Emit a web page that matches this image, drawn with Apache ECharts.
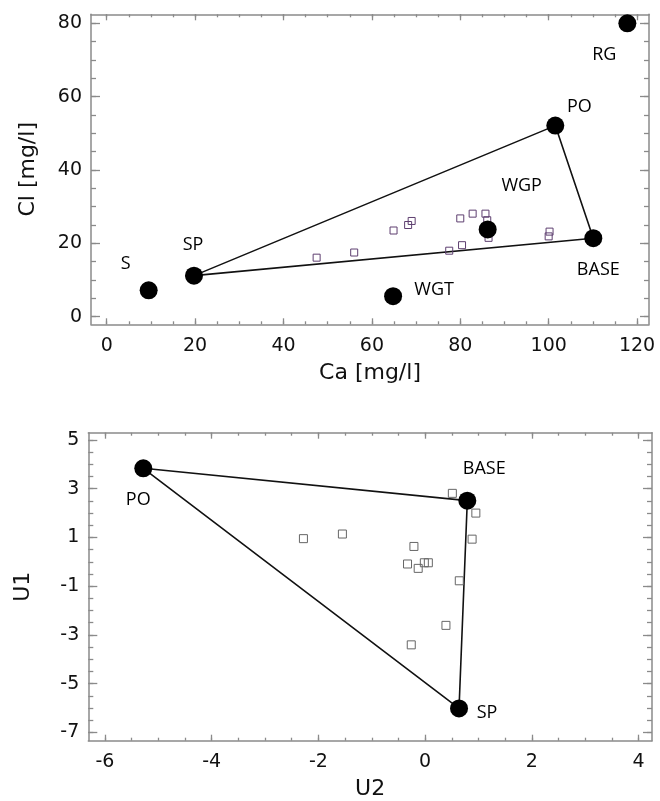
<!DOCTYPE html>
<html><head><meta charset="utf-8">
<script src="https://cdn.jsdelivr.net/npm/echarts@6/dist/echarts.min.js"></script>
<style>html,body{margin:0;padding:0;background:#fff}#c{width:660px;height:801px}</style>
</head><body><div id="c"></div>
<script>
// ---------- Top chart: Ca vs Cl ----------
const endNames = ['S', 'SP', 'WGT', 'WGP', 'BASE', 'PO', 'RG'];
const endCa = [9.5, 19.75, 64.8, 86.2, 110.1, 101.5, 117.8];
const endCl = [7.2, 11.2, 5.6, 23.8, 21.4, 52.1, 80.0];
const sampleCa = [47.5, 56.0, 64.9, 68.2, 69.0, 77.5, 80.0, 80.4, 82.8, 85.7, 86.1, 86.4, 100.2, 100.0];
const sampleCl = [16.1, 17.5, 23.5, 25.0, 26.1, 18.0, 26.8, 19.5, 28.1, 28.1, 26.3, 21.5, 23.2, 21.9];
const mixTop = ['SP', 'PO', 'BASE', 'SP'];
const caTicks = [0, 20, 40, 60, 80, 100, 120];
const caMinor = [0, 5, 10, 15, 20, 25, 30, 35, 40, 45, 50, 55, 60, 65, 70, 75, 80, 85, 90, 95, 100, 105, 110, 115, 120];
const clTicks = [0, 20, 40, 60, 80];
const clMinor = [0, 5, 10, 15, 20, 25, 30, 35, 40, 45, 50, 55, 60, 65, 70, 75, 80];

// ---------- Bottom chart: U2 vs U1 ----------
const uNames = ['PO', 'BASE', 'SP'];
const endU2 = [-5.28, 0.79, 0.635];
const endU1 = [3.84, 2.51, -6.02];
const sampleU2 = [0.51, 0.95, 0.88, -2.28, -1.55, -0.21, -0.33, -0.13, -0.015, 0.06, 0.64, 0.39, -0.26];
const sampleU1 = [2.81, 2.0, 0.93, 0.95, 1.14, 0.63, -0.09, -0.27, -0.04, -0.04, -0.78, -2.61, -3.41];
const mixBottom = ['PO', 'BASE', 'SP', 'PO'];
const u2Ticks = [-6, -4, -2, 0, 2, 4];
const u2Minor = [-6, -5.5, -5, -4.5, -4, -3.5, -3, -2.5, -2, -1.5, -1, -0.5, 0, 0.5, 1, 1.5, 2, 2.5, 3, 3.5, 4];
const u1Ticks = [-7, -5, -3, -1, 1, 3, 5];
const u1Minor = [-7, -6.5, -6, -5.5, -5, -4.5, -4, -3.5, -3, -2.5, -2, -1.5, -1, -0.5, 0, 0.5, 1, 1.5, 2, 2.5, 3, 3.5, 4, 4.5, 5];

// ---------- styles ----------
const frameColor = '#8a8a8a';
const tickFont = {fontFamily: 'DejaVu Sans', fontSize: 19, color: '#111'};
const nameFont = {fontFamily: 'DejaVu Sans', fontSize: 22, color: '#111'};
const ptLabelFont = {fontFamily: 'Open Sans', fontSize: 18, color: '#000', opacity: 1};
const labelOffsetsTop = {S: [-23, -26], SP: [-1, -31], WGT: [41, -6], WGP: [34, -44], BASE: [5, 32], PO: [24, -19], RG: [-23, 32]};
const labelOffsetsBottom = {PO: [-5, 32], BASE: [17, -32], SP: [28, 4]};

function axisSet(gridIndex, isX, min, max, majors, minors, name, nameGap, majorLen, minorLen) {
  const posA = isX ? 'bottom' : 'left';
  const posB = isX ? 'top' : 'right';
  const base = () => ({
    type: 'value', gridIndex: gridIndex, min: min, max: max,
    splitLine: {show: false},
    axisLine: {show: true, onZero: false, lineStyle: {color: frameColor, width: 1.5}}
  });
  const tick = (vals, len) => ({show: true, inside: true, length: len, customValues: vals, lineStyle: {color: frameColor, width: 1.3}});
  const a = Object.assign(base(), {
    position: posA, name: name, nameLocation: 'middle', nameGap: nameGap, nameTextStyle: nameFont,
    axisTick: tick(majors, majorLen),
    axisLabel: Object.assign({show: true, customValues: majors, margin: isX ? 12 : 9}, tickFont)
  });
  const b = Object.assign(base(), {position: posA, axisLine: {show: false, onZero: false}, axisTick: tick(minors, minorLen), axisLabel: {show: false}});
  const c = Object.assign(base(), {position: posB, axisTick: tick(majors, majorLen), axisLabel: {show: false}});
  const d = Object.assign(base(), {position: posB, axisLine: {show: false, onZero: false}, axisTick: tick(minors, minorLen), axisLabel: {show: false}});
  return [a, b, c, d];
}

function pairs(xs, ys) { return xs.map((x, i) => [x, ys[i]]); }
function lookup(names, xs, ys, order) { return order.map(n => { const i = names.indexOf(n); return [xs[i], ys[i]]; }); }

const xAxes = [].concat(
  axisSet(0, true, -3.55, 122.7, caTicks, caMinor, 'Ca [mg/l]', 38, 6, 3),
  axisSet(1, true, -6.31, 4.25, u2Ticks, u2Minor, 'U2', 38, 6, 3)
);
const yAxes = [].concat(
  axisSet(0, false, -2.07, 82.45, clTicks, clMinor, 'Cl [mg/l]', 52, 9, 5),
  axisSet(1, false, -7.345, 5.30, u1Ticks, u1Minor, 'U1', 54, 9, 5)
);

function endPoints(names, xs, ys, offsets) {
  return names.map((n, i) => ({
    name: n, value: [xs[i], ys[i]],
    label: {show: true, position: 'inside', offset: offsets[n], formatter: '{b}'}
  }));
}

const option = {
  animation: false,
  backgroundColor: '#fff',
  grid: [
    {left: 91, top: 14.3, width: 558, height: 310, containLabel: false, outerBoundsMode: 'none'},
    {left: 88.3, top: 432.7, width: 563.7, height: 308, containLabel: false, outerBoundsMode: 'none'}
  ],
  xAxis: xAxes,
  yAxis: yAxes,
  series: [
    {type: 'line', xAxisIndex: 0, yAxisIndex: 0, data: lookup(endNames, endCa, endCl, mixTop), symbol: 'none',
     lineStyle: {color: '#111', width: 1.6}, z: 2},
    {type: 'scatter', xAxisIndex: 0, yAxisIndex: 0, data: pairs(sampleCa, sampleCl), symbol: 'rect', symbolSize: 7,
     itemStyle: {color: 'rgba(0,0,0,0)', borderColor: '#5e3f70', borderWidth: 1, opacity: 1}, z: 3},
    {type: 'scatter', xAxisIndex: 0, yAxisIndex: 0, data: endPoints(endNames, endCa, endCl, labelOffsetsTop), symbol: 'circle', symbolSize: 18,
     itemStyle: {color: '#000', opacity: 1}, label: ptLabelFont, z: 4},
    {type: 'line', xAxisIndex: 4, yAxisIndex: 4, data: lookup(uNames, endU2, endU1, mixBottom), symbol: 'none',
     lineStyle: {color: '#111', width: 1.6}, z: 2},
    {type: 'scatter', xAxisIndex: 4, yAxisIndex: 4, data: pairs(sampleU2, sampleU1), symbol: 'rect', symbolSize: 8,
     itemStyle: {color: 'rgba(0,0,0,0)', borderColor: '#666', borderWidth: 1, opacity: 1}, z: 3},
    {type: 'scatter', xAxisIndex: 4, yAxisIndex: 4, data: endPoints(uNames, endU2, endU1, labelOffsetsBottom), symbol: 'circle', symbolSize: 18,
     itemStyle: {color: '#000', opacity: 1}, label: ptLabelFont, z: 4}
  ]
};
option.series.forEach(s => { if (s.label) { s.label = Object.assign({show: true, position: 'inside'}, s.label); } });
const chart = echarts.init(document.getElementById('c'), null, {renderer: 'canvas'});
chart.setOption(option);
</script>
</body></html>
